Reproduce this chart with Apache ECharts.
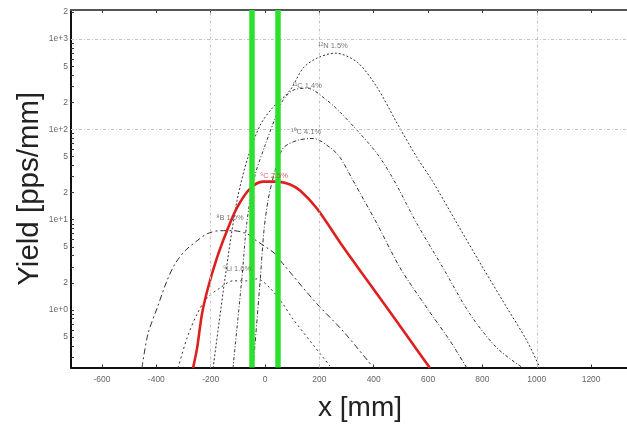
<!DOCTYPE html>
<html><head><meta charset="utf-8">
<script src="https://cdn.jsdelivr.net/npm/echarts@6/dist/echarts.min.js"></script>
<style>html,body{margin:0;padding:0;background:#fff}#c{width:627px;height:426px}</style>
</head><body><div id="c"></div>
<script>
// ---- axis ticks / labels ----
const xTicks = [-600, -400, -200, 0, 200, 400, 600, 800, 1000, 1200];
const yLabelValues = [0.5, 1, 2, 5, 10, 20, 50, 100, 200, 500, 1000, 2000];
const xGridValues = [-200, 200, 1000];
const yGridValues = [100, 1000];
const greenBarsX = [-50, 48];

// ---- curves (x in mm, yield in pps/mm) ----
const curveA_x = [-191, -147, -103, -63, -18, 26, 92, 140, 191, 258, 339, 412, 486, 559, 615, 707, 802, 891, 964, 1012];
const curveA_y = [0.227, 2.27, 16.3, 48.9, 111, 171, 271, 476, 615, 699, 555, 293, 117, 48.9, 27.1, 9.03, 2.93, 1.05, 0.453, 0.227];

const curveB_x = [-118, -85, -66, -37, 0, 37, 66, 103, 155, 228, 276, 339, 412, 471, 559, 655, 754, 854, 950];
const curveB_y = [0.227, 2.27, 9.75, 30.8, 66.4, 132, 210, 271, 286, 210, 155, 97.5, 54.1, 28.5, 9.03, 2.93, 0.903, 0.378, 0.227];

const curveC_x = [-44, -18, -4, 11, 37, 66, 118, 177, 239, 276, 324, 412, 497, 596, 681, 743];
const curveC_y = [0.227, 2.10, 7.55, 16.3, 35.0, 61.5, 75.4, 79.4, 63.1, 48.9, 27.1, 9.03, 2.93, 1.05, 0.453, 0.227];

const curveRed_x = [-265, -250, -232, -210, -177, -140, -103, -55, -7, 44, 92, 129, 191, 287, 375, 460, 523, 607];
const curveRed_y = [0.227, 0.378, 0.903, 1.75, 3.78, 7.55, 13.6, 22.1, 26.4, 26.4, 24.5, 21, 13.3, 5.01, 2.15, 0.95, 0.514, 0.227];

const curveE_x = [-453, -431, -397, -361, -331, -294, -250, -213, -166, -118, -66, -37, 37, 66, 191, 287, 394];
const curveE_y = [0.227, 0.54, 1.05, 2.1, 3.25, 4.53, 5.84, 6.98, 7.55, 7.55, 6.98, 6.0, 4.19, 3.25, 1.17, 0.584, 0.239];

const curveF_x = [-320, -287, -250, -213, -166, -118, -66, -29, 18, 63, 103, 239];
const curveF_y = [0.227, 0.489, 0.903, 1.36, 1.75, 2.10, 2.10, 2.21, 1.75, 1.20, 0.794, 0.239];

// ---- curve labels ----
const labelText = ['¹²N 1.5%', '¹¹C 1.4%', '¹⁰C 4.1%', '⁹C 2.5%', '⁸B 1.0%', '⁹Li 1.6%'];
const labelX = [250, 155, 151, 33, -129, -103];
const labelY = [836, 301, 92.6, 30.8, 10.5, 2.86];
const labelColor = ['#555', '#555', '#555', '#d04040', '#555', '#555'];

function pairs(xs, ys) { return xs.map((x, i) => [x, ys[i]]); }

function yFmt(v) {
  const lg = Math.log10(v);
  const e = Math.round(lg);
  if (Math.abs(lg - e) < 1e-6) return '1e' + (e >= 0 ? '+' : '-') + Math.abs(e);
  const f = Math.floor(lg + 1e-9);
  return String(Math.round(v / Math.pow(10, f)));
}

const yTickValues = [];
[-1, 0, 1, 2, 3].forEach(e => { for (let k = 1; k <= 9; k++) yTickValues.push(+(k * Math.pow(10, e)).toPrecision(3)); });

const curves = [
  { x: curveA_x, y: curveA_y, color: '#333', width: 1, type: [2, 2] },
  { x: curveB_x, y: curveB_y, color: '#333', width: 1, type: [3, 2, 1, 2] },
  { x: curveC_x, y: curveC_y, color: '#333', width: 1, type: [4, 2, 1, 2] },
  { x: curveE_x, y: curveE_y, color: '#333', width: 1, type: [6, 3, 2, 3] },
  { x: curveF_x, y: curveF_y, color: '#333', width: 1, type: [2, 3] },
  { x: curveRed_x, y: curveRed_y, color: '#dd1f1f', width: 2.6, type: 'solid' }
];

const series = curves.map(c => ({
  type: 'line', data: pairs(c.x, c.y), smooth: 0.3, symbol: 'none', silent: true,
  lineStyle: { color: c.color, width: c.width, type: c.type }, z: 3
}));

series.push({
  type: 'line', data: [], silent: true, z: 1,
  markLine: {
    silent: true, symbol: 'none', label: { show: false },
    lineStyle: { color: '#c4c4c4', width: 1, type: [3, 2, 1, 2] },
    data: xGridValues.map(v => ({ xAxis: v })).concat(yGridValues.map(v => ({ yAxis: v })))
  }
});
series.push({
  type: 'line', data: [], silent: true, z: 10,
  markLine: {
    silent: true, symbol: 'none', label: { show: false },
    lineStyle: { color: '#2ee02e', width: 5.5, type: 'solid', opacity: 1 },
    data: greenBarsX.map(v => ({ xAxis: v }))
  }
});
series.push({
  type: 'scatter', symbolSize: 0, silent: true, z: 5,
  data: labelX.map((x, i) => ({
    value: [x, labelY[i]],
    label: { show: true, position: 'inside', formatter: labelText[i], color: labelColor[i], fontSize: 7.5, fontFamily: 'Liberation Sans' }
  }))
});

const option = {
  animation: false,
  backgroundColor: '#fff',
  grid: { left: 71, right: -22, top: 10, bottom: 58.5, containLabel: false, outerBoundsMode: 'none' },
  xAxis: [{
    type: 'value', min: -714, max: 1413, position: 'bottom',
    name: 'x [mm]', nameLocation: 'middle', nameGap: 27, nameMoveOverlap: false,
    nameTextStyle: { fontSize: 28, color: '#222', fontFamily: 'Liberation Sans' },
    axisLine: { show: true, onZero: false, lineStyle: { color: '#111', width: 2 } },
    axisTick: { show: true, inside: true, length: 3, customValues: xTicks, lineStyle: { color: '#333' } },
    axisLabel: { customValues: xTicks, formatter: v => String(v), fontSize: 8.5, color: '#666', margin: 8, fontFamily: 'Liberation Sans' },
    splitLine: { show: false }
  }, {
    type: 'value', min: -714, max: 1413, position: 'top',
    axisLine: { show: true, onZero: false, lineStyle: { color: '#555', width: 2 } },
    axisTick: { show: true, inside: true, length: 3, customValues: xTicks, lineStyle: { color: '#333' } },
    axisLabel: { show: false },
    splitLine: { show: false }
  }],
  yAxis: {
    type: 'log', logBase: 10, min: 0.2305, max: 2100,
    name: 'Yield [pps/mm]', nameLocation: 'middle', nameGap: 26, nameMoveOverlap: false,
    nameTextStyle: { fontSize: 29.5, color: '#222', fontFamily: 'Liberation Sans' },
    axisLine: { show: true, onZero: false, lineStyle: { color: '#111', width: 2 } },
    axisTick: { show: true, inside: true, length: 3, customValues: yTickValues, lineStyle: { color: '#333' } },
    axisLabel: { customValues: yLabelValues, formatter: yFmt, fontSize: 8.5, color: '#666', margin: 3, fontFamily: 'Liberation Sans' },
    splitLine: { show: false },
    minorTick: { show: false }
  },
  series: series
};
const chart = echarts.init(document.getElementById('c'));
chart.setOption(option);
</script>
</body></html>
